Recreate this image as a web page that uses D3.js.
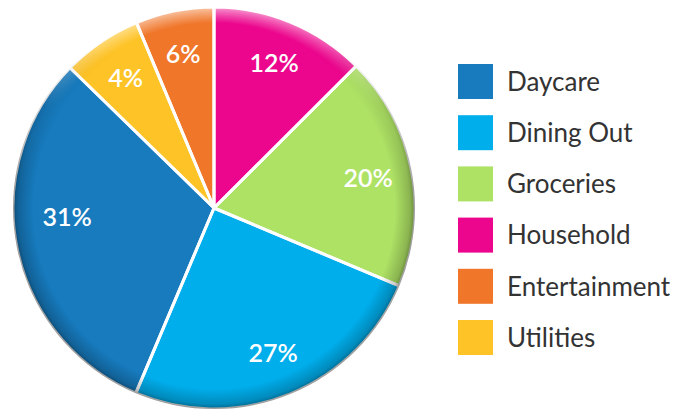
<!DOCTYPE html>
<html>
<head>
<meta charset="utf-8">
<script src="https://cdn.jsdelivr.net/npm/d3@7"></script>
<style>
  body { margin: 0; background: #fff; }
  text { font-family: Lato, "Noto Sans", sans-serif; }
</style>
</head>
<body>
<div id="main"></div>
<script>
// slices, clockwise from 12 o'clock (sizes as drawn; labels as printed)
var categories = ["Household", "Groceries", "Dining Out", "Daycare", "Utilities", "Entertainment"];
var sliceSizes = [12.5, 18.8, 25.0, 30.9, 6.4, 6.3];
var sliceLabels = ["12%", "20%", "27%", "31%", "4%", "6%"];
var colors = ["#EC068D", "#AEE265", "#00AEEC", "#177BBE", "#FEC326", "#F0762A"];

// legend order
var legendOrder = ["Daycare", "Dining Out", "Groceries", "Household", "Entertainment", "Utilities"];

var width = 692, height = 410;
var cx = 214, cy = 208, r = 201;

var color = d3.scaleOrdinal().domain(categories).range(colors);

var svg = d3.select("#main").append("svg")
    .attr("width", width)
    .attr("height", height);

var defs = svg.append("defs");

// dark rim
var rimDark = defs.append("radialGradient").attr("id", "rimDark");
rimDark.append("stop").attr("offset", "0.9").attr("stop-color", "#000").attr("stop-opacity", 0);
rimDark.append("stop").attr("offset", "0.975").attr("stop-color", "#000").attr("stop-opacity", 0.2);
rimDark.append("stop").attr("offset", "1").attr("stop-color", "#000").attr("stop-opacity", 0.4);

// light rim
var rimLight = defs.append("radialGradient").attr("id", "rimLight");
rimLight.append("stop").attr("offset", "0.92").attr("stop-color", "#fff").attr("stop-opacity", 0);
rimLight.append("stop").attr("offset", "1").attr("stop-color", "#fff").attr("stop-opacity", 0.6);

var fadeDown = defs.append("linearGradient").attr("id", "fadeDown")
    .attr("x1", 0).attr("y1", 0).attr("x2", 0).attr("y2", 1);
fadeDown.append("stop").attr("offset", "0.1").attr("stop-color", "#000");
fadeDown.append("stop").attr("offset", "0.45").attr("stop-color", "#fff");

var fadeUp = defs.append("linearGradient").attr("id", "fadeUp")
    .attr("x1", 0).attr("y1", 0).attr("x2", 0).attr("y2", 1);
fadeUp.append("stop").attr("offset", "0").attr("stop-color", "#fff");
fadeUp.append("stop").attr("offset", "0.25").attr("stop-color", "#000");

defs.append("mask").attr("id", "maskDark")
  .append("rect").attr("x", cx - r).attr("y", cy - r)
    .attr("width", 2 * r).attr("height", 2 * r).attr("fill", "url(#fadeDown)");
defs.append("mask").attr("id", "maskLight")
  .append("rect").attr("x", cx - r).attr("y", cy - r)
    .attr("width", 2 * r).attr("height", 2 * r).attr("fill", "url(#fadeUp)");

var pie = d3.pie().sort(null).value(function(d) { return d.size; });
var arc = d3.arc().innerRadius(0).outerRadius(r);
var labelArc = d3.arc().innerRadius(157).outerRadius(157);

var data = categories.map(function(c, i) {
  return { name: c, size: sliceSizes[i], label: sliceLabels[i] };
});

var g = svg.append("g").attr("transform", "translate(" + cx + "," + cy + ")");

g.selectAll("path.slice")
    .data(pie(data))
    .enter()
    .append("path")
    .attr("class", "slice")
    .attr("d", arc)
    .attr("fill", function(d) { return color(d.data.name); });

// rim shading
svg.append("circle").attr("cx", cx).attr("cy", cy).attr("r", r)
    .attr("fill", "url(#rimDark)").attr("mask", "url(#maskDark)");
svg.append("circle").attr("cx", cx).attr("cy", cy).attr("r", r)
    .attr("fill", "url(#rimLight)").attr("mask", "url(#maskLight)");

// white separators
g.selectAll("path.sep")
    .data(pie(data))
    .enter()
    .append("path")
    .attr("class", "sep")
    .attr("d", arc)
    .attr("fill", "none")
    .attr("stroke", "#fff")
    .attr("stroke-width", 3)
    .attr("stroke-linejoin", "round");

g.append("circle").attr("r", r + 2).attr("fill", "none")
    .attr("stroke", "#fff").attr("stroke-width", 4);

g.selectAll("text.pct")
    .data(pie(data))
    .enter()
    .append("text")
    .attr("class", "pct")
    .attr("transform", function(d) {
      var c = labelArc.centroid(d);
      // the big slice's label sits a bit higher than its centroid
      if (d.data.name === "Daycare") c = d3.arc().innerRadius(147).outerRadius(147)
          .centroid({ startAngle: d.startAngle, endAngle: d.endAngle + 0.28 });
      return "translate(" + c[0] + "," + c[1] + ")";
    })
    .attr("text-anchor", "middle")
    .attr("dy", "0.36em")
    .attr("fill", "#fff")
    .attr("font-size", 25)
    .attr("font-weight", 600)
    .text(function(d) { return d.data.label; });

// legend
var legend = svg.append("g").attr("transform", "translate(458,64)");
var row = legend.selectAll("g")
    .data(legendOrder)
    .enter()
    .append("g")
    .attr("transform", function(d, i) { return "translate(0," + (i * 51.2) + ")"; });

row.append("rect")
    .attr("width", 35)
    .attr("height", 35)
    .attr("fill", function(d) { return color(d); });

row.append("text")
    .attr("x", 49)
    .attr("y", 17.5)
    .attr("dy", "0.36em")
    .attr("font-size", 26)
    .attr("font-weight", 400)
    .attr("fill", "#333")
    .text(function(d) { return d; });
</script>
</body>
</html>
